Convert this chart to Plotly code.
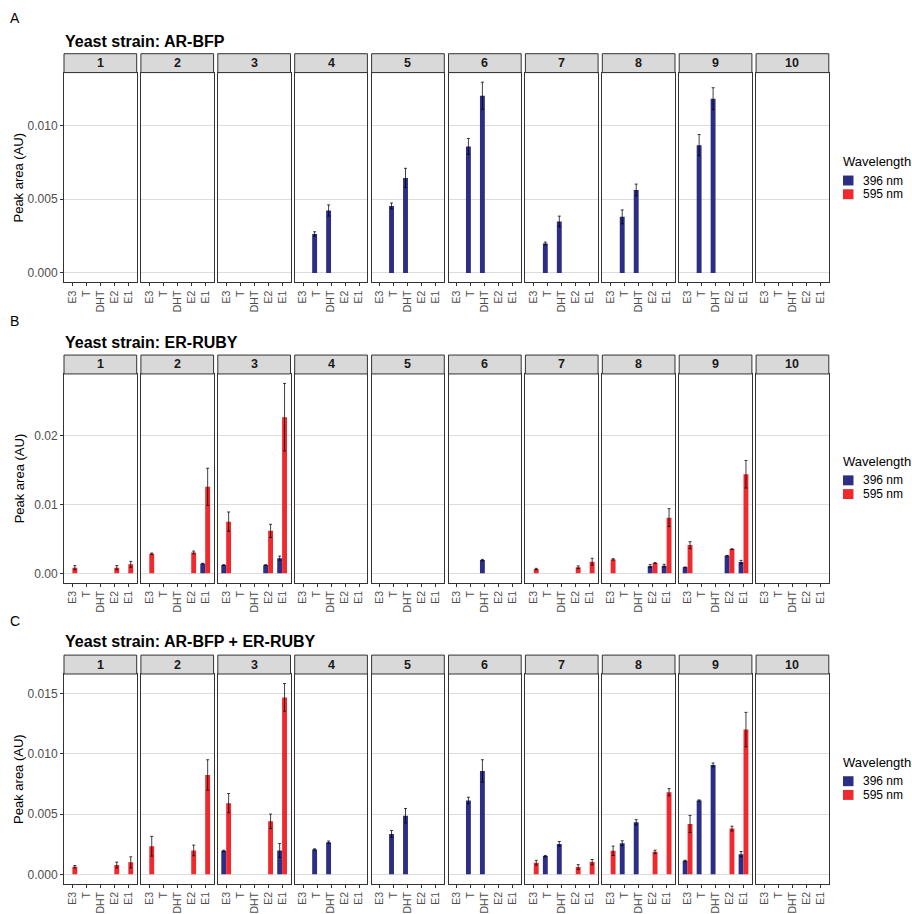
import plotly.graph_objects as go

# ---- data -------------------------------------------------------------
categories = ["E3", "T", "DHT", "E2", "E1"]
panels = ["1", "2", "3", "4", "5", "6", "7", "8", "9", "10"]
strains = ["AR-BFP", "ER-RUBY", "AR-BFP + ER-RUBY"]
row_letters = ["A", "B", "C"]
wavelengths = ["396 nm", "595 nm"]
wl_colors = ["#2B2E84", "#EE2A2F"]

N = None

# mean peak area, one row per panel, columns follow `categories`
arbfp_396 = [
    [N, N, N, N, N],
    [N, N, N, N, N],
    [N, N, N, N, N],
    [N, 0.00264, 0.00423, N, N],
    [N, 0.00454, 0.00644, N, N],
    [N, 0.00857, 0.01201, N, N],
    [N, 0.00199, 0.00349, N, N],
    [N, 0.00380, 0.00562, N, N],
    [N, 0.00866, 0.01181, N, N],
    [N, N, N, N, N],
]
arbfp_396_sd = [
    [N, N, N, N, N],
    [N, N, N, N, N],
    [N, N, N, N, N],
    [N, 0.00015, 0.00038, N, N],
    [N, 0.00020, 0.00065, N, N],
    [N, 0.00054, 0.00092, N, N],
    [N, 0.00010, 0.00036, N, N],
    [N, 0.00047, 0.00040, N, N],
    [N, 0.00072, 0.00074, N, N],
    [N, N, N, N, N],
]
arbfp_595 = [[N, N, N, N, N] for _ in range(10)]
arbfp_595_sd = [[N, N, N, N, N] for _ in range(10)]

erruby_396 = [
    [N, N, N, N, N],
    [N, N, N, N, 0.00140],
    [0.00120, N, N, 0.00120, 0.00220],
    [N, N, N, N, N],
    [N, N, N, N, N],
    [N, N, 0.00192, N, N],
    [N, N, N, N, N],
    [N, N, N, 0.00106, 0.00111],
    [0.00087, N, N, 0.00255, 0.00163],
    [N, N, N, N, N],
]
erruby_396_sd = [
    [N, N, N, N, N],
    [N, N, N, N, 0.00005],
    [0.00005, N, N, 0.00005, 0.00030],
    [N, N, N, N, N],
    [N, N, N, N, N],
    [N, N, 0.00010, N, N],
    [N, N, N, N, N],
    [N, N, N, 0.00020, 0.00020],
    [0.00005, N, N, 0.00005, 0.00025],
    [N, N, N, N, N],
]
erruby_595 = [
    [0.00082, N, N, 0.00082, 0.00130],
    [0.00284, N, N, 0.00303, 0.01255],
    [0.00750, N, N, 0.00616, 0.02266],
    [N, N, N, N, N],
    [N, N, N, N, N],
    [N, N, N, N, N],
    [0.00062, N, N, 0.00087, 0.00168],
    [0.00202, N, N, 0.00149, 0.00808],
    [0.00409, N, N, 0.00351, 0.01438],
    [N, N, N, N, N],
]
erruby_595_sd = [
    [0.00030, N, N, 0.00030, 0.00043],
    [0.00010, N, N, 0.00020, 0.00270],
    [0.00140, N, N, 0.00096, 0.00490],
    [N, N, N, N, N],
    [N, N, N, N, N],
    [N, N, N, N, N],
    [0.00010, N, N, 0.00020, 0.00050],
    [0.00010, N, N, 0.00005, 0.00130],
    [0.00050, N, N, 0.00005, 0.00200],
    [N, N, N, N, N],
]

both_396 = [
    [N, N, N, N, N],
    [N, N, N, N, N],
    [0.00195, N, N, N, 0.00198],
    [N, 0.00206, 0.00266, N, N],
    [N, 0.00335, 0.00486, N, N],
    [N, 0.00612, 0.00857, N, N],
    [N, 0.00151, 0.00252, N, N],
    [N, 0.00258, 0.00431, N, N],
    [0.00112, 0.00612, 0.00907, N, 0.00167],
    [N, N, N, N, N],
]
both_396_sd = [
    [N, N, N, N, N],
    [N, N, N, N, N],
    [0.00005, N, N, N, 0.00058],
    [N, 0.00005, 0.00010, N, N],
    [N, 0.00028, 0.00060, N, N],
    [N, 0.00027, 0.00093, N, N],
    [N, 0.00005, 0.00020, N, N],
    [N, 0.00020, 0.00022, N, N],
    [0.00005, 0.00005, 0.00016, N, 0.00022],
    [N, N, N, N, N],
]
both_595 = [
    [0.00063, N, N, 0.00077, 0.00099],
    [0.00233, N, N, 0.00198, 0.00824],
    [0.00590, N, N, 0.00439, 0.01467],
    [N, N, N, N, N],
    [N, N, N, N, N],
    [N, N, N, N, N],
    [0.00096, N, N, 0.00060, 0.00101],
    [0.00195, N, N, 0.00186, 0.00681],
    [0.00417, N, N, 0.00379, 0.01200],
    [N, N, N, N, N],
]
both_595_sd = [
    [0.00010, N, N, 0.00024, 0.00046],
    [0.00082, N, N, 0.00044, 0.00126],
    [0.00080, N, N, 0.00060, 0.00115],
    [N, N, N, N, N],
    [N, N, N, N, N],
    [N, N, N, N, N],
    [0.00020, N, N, 0.00020, 0.00022],
    [0.00039, N, N, 0.00014, 0.00030],
    [0.00071, N, N, 0.00020, 0.00143],
    [N, N, N, N, N],
]

y_ticks = [
    [0.0, 0.005, 0.010],
    [0.0, 0.01, 0.02],
    [0.0, 0.005, 0.010, 0.015],
]
y_tick_format = [".3f", ".2f", ".3f"]

means = [(arbfp_396, arbfp_595), (erruby_396, erruby_595), (both_396, both_595)]
sds = [(arbfp_396_sd, arbfp_595_sd), (erruby_396_sd, erruby_595_sd),
       (both_396_sd, both_595_sd)]

# ---- layout geometry (pixels) ----------------------------------------
W, H = 912, 914
FONT = "Liberation Sans, Arial, sans-serif"
panel_left, panel_pitch, panel_width = 64.0, 76.9, 72.7
row_plot_top = [73.0, 376.0, 677.7]
row_plot_bottom = [284.0, 586.0, 888.7]
strip_h = 19.0
row_title_y = [42.0, 344.5, 645.5]
row_letter_y = [18.5, 322.5, 624.0]
legend_title_y = [162.5, 464.0, 766.5]


def px_x(v):
    return v / W


def px_y(v):
    return 1 - v / H


fig = go.Figure()
layout_axes = {}
shapes = []
annotations = []

for s in range(3):
    # y range with ggplot-style 5% padding around [0, max(mean + sd)]
    tops = []
    for w in range(2):
        for prow, srow in zip(means[s][w], sds[s][w]):
            for m, e in zip(prow, srow):
                if m is not None:
                    tops.append(m + (e or 0))
    ymax = max(tops)
    yrange = [-0.05 * ymax, 1.05 * ymax]

    for p in range(10):
        k = s * 10 + p + 1
        xname = "x" if k == 1 else f"x{k}"
        yname = "y" if k == 1 else f"y{k}"
        x0 = panel_left + p * panel_pitch
        x1 = x0 + panel_width

        for w in range(2):
            fig.add_trace(go.Bar(
                x=categories,
                y=means[s][w][p],
                name=wavelengths[w],
                marker=dict(color=wl_colors[w], line=dict(width=0)),
                error_y=dict(type="data", array=sds[s][w][p], visible=True,
                             color="rgba(0,0,0,0.75)", thickness=1, width=1.5),
                xaxis=xname, yaxis=yname,
                showlegend=False,
            ))

        layout_axes["xaxis" if k == 1 else f"xaxis{k}"] = dict(
            domain=[px_x(x0), px_x(x1)],
            anchor=yname,
            type="category",
            categoryorder="array", categoryarray=categories,
            range=[-0.6, 4.6],
            showgrid=False, zeroline=False,
            showline=True, mirror=True, linecolor="#333333", linewidth=1,
            ticks="outside", ticklen=3, tickcolor="#333333", tickwidth=1,
            tickangle=-90,
            tickfont=dict(family=FONT, size=10.5, color="#4D4D4D"),
            fixedrange=True,
        )
        layout_axes["yaxis" if k == 1 else f"yaxis{k}"] = dict(
            domain=[px_y(row_plot_bottom[s]), px_y(row_plot_top[s])],
            anchor=xname,
            range=yrange,
            tickvals=y_ticks[s],
            tickformat=y_tick_format[s],
            showticklabels=(p == 0),
            ticks="outside" if p == 0 else "",
            ticklen=3, tickcolor="#333333", tickwidth=1,
            tickfont=dict(family=FONT, size=12, color="#4D4D4D"),
            showgrid=True, gridcolor="#DCDCDC", gridwidth=1.2,
            zeroline=False,
            showline=True, mirror=True, linecolor="#333333", linewidth=1,
            fixedrange=True,
        )

        # facet strip
        st_top = row_plot_top[s] - strip_h
        shapes.append(dict(
            type="rect", xref="paper", yref="paper",
            x0=px_x(x0), x1=px_x(x1),
            y0=px_y(row_plot_top[s]), y1=px_y(st_top),
            fillcolor="#D9D9D9", line=dict(color="#333333", width=1),
            layer="above",
        ))
        annotations.append(dict(
            x=px_x((x0 + x1) / 2), y=px_y(st_top + strip_h / 2),
            xref="paper", yref="paper", text=f"<b>{panels[p]}</b>",
            showarrow=False, xanchor="center", yanchor="middle",
            font=dict(family=FONT, size=12.5, color="#1A1A1A"),
        ))

    # row letter, title and y-axis title
    annotations.append(dict(
        x=px_x(8), y=px_y(row_letter_y[s]), xref="paper", yref="paper",
        text=row_letters[s], showarrow=False, xanchor="left", yanchor="middle",
        font=dict(family=FONT, size=14, color="#000000"),
    ))
    annotations.append(dict(
        x=px_x(63), y=px_y(row_title_y[s]), xref="paper", yref="paper",
        text=f"<b>Yeast strain: {strains[s]}</b>", showarrow=False,
        xanchor="left", yanchor="middle",
        font=dict(family=FONT, size=16, color="#000000"),
    ))
    annotations.append(dict(
        x=px_x(19), y=px_y((row_plot_top[s] + row_plot_bottom[s]) / 2),
        xref="paper", yref="paper", text="Peak area (AU)", showarrow=False,
        textangle=-90, xanchor="center", yanchor="middle",
        font=dict(family=FONT, size=13, color="#000000"),
    ))

    # legend for the row
    ly = legend_title_y[s]
    annotations.append(dict(
        x=px_x(841), y=px_y(ly), xref="paper", yref="paper",
        text="Wavelength", showarrow=False, xanchor="left", yanchor="middle",
        font=dict(family=FONT, size=13, color="#000000"),
    ))
    for w in range(2):
        cy = ly + 19 + w * 13.8
        shapes.append(dict(
            type="rect", xref="paper", yref="paper",
            x0=px_x(843), x1=px_x(853.5),
            y0=px_y(cy + 5), y1=px_y(cy - 5),
            fillcolor=wl_colors[w], line=dict(width=0),
        ))
        annotations.append(dict(
            x=px_x(861), y=px_y(cy), xref="paper", yref="paper",
            text=wavelengths[w], showarrow=False, xanchor="left",
            yanchor="middle",
            font=dict(family=FONT, size=12, color="#000000"),
        ))

fig.update_layout(
    width=W, height=H,
    margin=dict(l=0, r=0, t=0, b=0),
    paper_bgcolor="white", plot_bgcolor="white",
    barmode="group", bargap=0.3, bargroupgap=0.0,
    showlegend=False,
    shapes=shapes, annotations=annotations,
    font=dict(family=FONT),
    **layout_axes,
)

fig.write_html("out.html")
